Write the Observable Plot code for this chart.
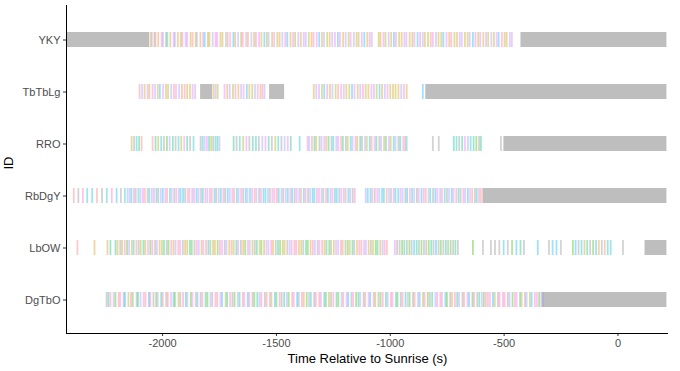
<!DOCTYPE html>
<html>
<head>
<meta charset="utf-8">
<script src="https://cdn.jsdelivr.net/npm/d3@7"></script>
<script src="https://cdn.jsdelivr.net/npm/@observablehq/plot@0.6"></script>
<style>
  html, body { margin: 0; padding: 0; background: #fff; }
  #chart { width: 680px; height: 371px; }
</style>
</head>
<body>
<div id="chart"></div>
<script>
// ---------- DATA ----------
const ids = ["YKY", "TbTbLg", "RRO", "RbDgY", "LbOW", "DgTbO"];
const xTicks = [-2000, -1500, -1000, -500, 0];
const typeLevels = ["a","b","c","d","e","f","g","h","i","j","k"];
const typeColors = ["#F8766D","#D89000","#A3A500","#39B600","#00BF7D","#00BFC4","#00B0F6","#9590FF","#E76BF3","#FF62BC","#8C8C8C"];

// gray intervals (start, end) in seconds relative to sunrise
const grayYKY = [[-2420, -2057], [-426, 215]];
const grayTbTbLg = [[-1833, -1780], [-1530, -1464], [-844, 215]];
const grayRRO = [[-501, 215]];
const grayRbDgY = [[-593, 215]];
const grayLbOW = [[119, 215]];
const grayDgTbO = [[-330, 215]];

// event times (s) and their type codes
const timesYKY = [-2053,-2047,-2036,-2031,-2019,-2004,-1998,-1985,-1979,-1966,
 -1951,-1946,-1933,-1920,-1913,-1899,-1892,-1877,-1868,-1855,
 -1849,-1834,-1822,-1815,-1801,-1794,-1780,-1767,-1760,-1746,
 -1737,-1722,-1714,-1703,-1689,-1681,-1668,-1655,-1648,-1633,
 -1625,-1610,-1598,-1590,-1576,-1566,-1553,-1542,-1534,-1519,
 -1510,-1496,-1486,-1474,-1461,-1452,-1438,-1427,-1418,-1404,
 -1393,-1380,-1371,-1358,-1346,-1337,-1323,-1312,-1300,-1291,
 -1277,-1266,-1255,-1243,-1230,-1221,-1207,-1196,-1183,-1174,
 -1160,-1148,-1139,-1125,-1114,-1101,-1090,-1081,
 -1051,-1043,-1030,-1021,-1007,-996,-984,-975,-961,-950,
 -938,-929,-915,-903,-894,-880,-869,-857,-848,-834,
 -822,-813,-799,-788,-776,-767,-753,-741,-732,-718,
 -707,-695,-686,-672,-660,-651,-637,-626,-614,-605,
 -591,-579,-570,-556,-545,-533,-524,-510,-498,-489,
 -475,-466];
const typesYKY = "bhcibjhcgbihbcjhibachbigcbhjibchbigbhcjibhcjibgchbicbhjgbichbihcbjigbhcbhigjbhcihbcigbjhcb" +
 "ichbgjcbihbcigjhbcaihbcgibjcbhicbhgjcibhbhcigjbchigb";

const timesTbTbLg = [-2101,-2090,-2079,-2066,-2058,-2044,-2033,-2021,-2012,-1998,
 -1985,-1976,-1962,-1950,-1941,-1927,-1915,-1903,-1892,-1880,-1868,-1857,
 -1776,-1767,-1758,
 -1728,-1716,-1705,-1691,-1680,-1667,-1655,-1644,-1630,-1619,-1606,-1594,-1582,-1570,-1561,-1552,
 -1336,-1325,-1313,-1300,-1290,-1277,-1265,-1254,-1240,-1229,-1216,-1204,-1193,-1180,-1168,-1157,
 -1143,-1132,-1120,-1108,-1096,-1083,-1072,-1060,-1047,-1036,-1024,-1012,-1000,-988,-977,-964,-952,-940,-928,
 -857];
const typesTbTbLg = "ahbicjhbgibchaihbjcbih" + "bhc" + "ibhcjbhigbchibjh" + "bhicgjbhcaihbcgibhjcbihcgbhicbcbhib" + "g";

const timesRRO = [-2136,-2125,-2114,-2103,-2092,
 -2044,-2031,-2019,-2006,-1994,-1981,-1969,-1955,-1943,-1930,-1918,-1905,-1892,-1879,-1864,
 -1833,-1824,-1815,-1805,-1796,-1787,-1778,-1768,-1759,-1750,
 -1688,-1675,-1661,-1646,-1632,-1619,-1604,-1590,-1577,-1562,-1548,-1534,-1520,-1505,-1492,-1478,-1464,-1450,-1437,
 -1398,
 -1363,-1356,-1344,-1333,-1325,-1311,-1302,-1290,-1281,-1271,-1258,-1250,-1237,-1229,-1216,-1208,-1195,-1187,
 -1174,-1166,-1153,-1145,-1132,-1124,-1111,-1103,-1090,-1082,-1069,-1061,-1048,-1040,-1027,-1019,-1006,-998,
 -985,-977,-964,-956,-943,-935,-928,
 -813,-787,
 -721,-709,-697,-684,-672,-659,-647,-634,-622,-610,-602,
 -514];
const typesRRO = "ckfea" + "aecfkdhekfciekf" + "kfhieckfeh" + "ekfcikefkhiekcfkhie" + "f" +
 "ihaeckhibekfhiaekcfhibekhcfaiekhbeicfhkeiaf" + "kk" + "efkeihfedke" + "k";

const timesRbDgY = [-2390,-2370,-2350,-2331,-2309,-2288,-2266,-2245,-2223,-2202,-2183,-2166,-2154,
 -2145,-2137,-2126,-2118,-2106,-2097,-2086,-2078,-2066,-2058,
 -2047,-2038,-2027,-2019,-2008,-1999,-1988,-1980,-1968,-1960,
 -1949,-1940,-1929,-1921,-1910,-1901,-1890,-1882,-1870,-1862,
 -1851,-1842,-1831,-1823,-1812,-1803,-1792,-1784,-1772,-1764,
 -1753,-1744,-1733,-1725,-1714,-1705,-1694,-1686,-1674,-1666,
 -1655,-1646,-1635,-1627,-1616,-1607,-1596,-1588,-1576,-1568,
 -1557,-1548,-1537,-1529,-1518,-1509,-1498,-1490,-1478,-1470,
 -1459,-1450,-1439,-1431,-1420,-1411,-1400,-1392,-1380,-1372,
 -1361,-1352,-1341,-1333,-1322,-1313,-1302,-1294,-1282,-1274,
 -1263,-1254,-1243,-1235,-1224,-1215,-1204,-1196,-1184,-1176,
 -1165,-1156,
 -1108,-1099,-1087,-1079,-1068,-1057,-1048,-1036,-1028,-1016,
 -1006,-997,-985,-977,-965,-955,-946,-934,-926,-914,
 -904,-895,-883,-875,-863,-853,-844,-832,-824,-812,
 -802,-793,-781,-773,-761,-751,-742,-730,-722,-710,
 -700,-691,-679,-671,-659,-649,-640,-628,-620,-610,-602];
const typesRbDgY = "akjfgakfjgkfh" +
 "hgjkfhiakghjfkhgiafhkjhgfkiahjghkfjhiagkhfjkghiafhjkghfiahkjgfhkijaghkhfjgkihafjkhgfjihkaghjfgkihafhkj" +
 "hgfjkihgfahkjgfihkgjfhkigjahfkgihjfkhgiafkjhgiakfja";

const timesLbOW = [-2374,-2299,-2242,-2229,
 -2207,-2198,-2186,-2178,-2166,-2156,-2147,-2135,-2127,-2115,-2105,-2096,-2084,-2076,-2064,-2054,
 -2045,-2033,-2025,-2013,-2003,-1994,-1982,-1974,-1962,-1952,-1943,-1931,-1923,-1911,-1901,-1892,
 -1880,-1872,-1860,-1850,-1841,-1829,-1821,-1809,-1799,-1790,-1778,-1770,-1758,-1748,-1739,-1727,
 -1719,-1707,-1697,-1688,-1676,-1668,-1656,-1646,-1637,-1625,-1617,-1605,-1595,-1586,-1574,-1566,
 -1554,-1544,-1535,-1523,-1515,-1503,-1493,-1484,-1472,-1464,-1452,-1442,-1433,-1421,-1413,-1401,
 -1391,-1382,-1370,-1362,-1350,-1340,-1331,-1319,-1311,-1299,-1289,-1280,-1268,-1260,-1248,-1238,
 -1229,-1217,-1209,-1197,-1187,-1178,-1166,-1158,-1146,-1136,-1127,-1115,-1107,-1095,-1085,-1076,
 -1064,-1056,-1044,-1034,-1025,-1015,
 -980,-970,-959,-948,-938,-927,-916,-906,-895,-884,-874,-863,-852,-842,-831,-820,-810,-799,-788,
 -778,-767,-756,-746,-735,-724,-714,-703,
 -637,-593,
 -558,-540,-521,-502,-484,-465,-446,-428,-413,
 -352,
 -303,-287,-270,-251,
 -198,-186,-173,-160,-147,-135,-122,-109,-96,-84,-71,-58,-45,-32,22];
const typesLbOW = "abbe" +
 "ebkcjdhbfakcebidjkhbcekdjbhaikbcedkjhbiaekcbdjikhbaceikbdjhckebdcihjbkedcbkhiajbckedbjhkiabedkcihjbkdcekbjaihbkcdebhjaik" +
 "kdekdkgekdkkdekgkdkekdkekdk" + "kk" + "kgkdgekgk" + "g" + "gkdg" + "kgcekdgbkaegkdk";

const timesDgTbO = [-2246,-2238,-2229,-2215,-2207,-2193,-2186,-2171,-2165,-2150,-2139,-2131,-2114,-2108,-2097,
 -2083,-2075,-2060,-2054,-2040,-2028,-2021,-2006,-1999,-1984,-1977,-1963,-1952,-1946,-1930,-1922,-1910,
 -1898,-1891,-1876,-1869,-1854,-1847,-1833,-1825,-1811,-1803,-1790,-1782,-1768,-1760,-1746,-1739,-1723,
 -1716,-1703,-1693,-1684,-1670,-1662,-1648,-1641,-1626,-1619,-1605,-1597,-1584,-1574,-1566,-1551,-1543,
 -1529,-1522,-1507,-1500,-1486,-1477,-1466,-1454,-1446,-1431,-1424,-1409,-1402,-1388,-1380,-1367,-1357,
 -1349,-1334,-1327,-1312,-1305,-1290,-1283,-1269,-1260,-1250,-1236,-1228,-1214,-1207,-1192,-1185,-1171,
 -1163,-1150,-1140,-1132,-1117,-1110,-1095,-1088,-1073,-1066,-1052,-1043,-1033,-1019,-1011,-997,-990,
 -975,-968,-954,-946,-933,-923,-915,-900,-893,-878,-871,-856,-849,-835,-826,-816,-802,-794,-780,-773,
 -758,-751,-737,-729,-716,-706,-698,-683,-676,-661,-654,-639,-632,-618,-609,-598,-589,-580,
 -571,-562,-549,-541,-527,-520,-505,-498,-484,-476,-463,-453,-445,-430,-423,-408,-401,-387,-379,-365,
 -356,-346,-336,-330];
const typesDgTbO = "kejhdaikgcjdkehiagjkdhejkaigdckjehdiagkjedhkjaigcejkdheaigjkdehjkaicgdjkehdaigkjbdhekjaigdckjedhaigkjdehkaigjckdjehaigdkjehdkaigcjdkehjaigdkbjehkaigdjkehdjaigck" +
 "jiakhdjiebkhcgjidkhacbfg";

// ---------- BUILD TABLES ----------
const rows = [
  ["YKY", timesYKY, typesYKY, grayYKY],
  ["TbTbLg", timesTbTbLg, typesTbTbLg, grayTbTbLg],
  ["RRO", timesRRO, typesRRO, grayRRO],
  ["RbDgY", timesRbDgY, typesRbDgY, grayRbDgY],
  ["LbOW", timesLbOW, typesLbOW, grayLbOW],
  ["DgTbO", timesDgTbO, typesDgTbO, grayDgTbO]
];
const events = rows.flatMap(([id, ts, tp]) => ts.map((t, i) => ({id, t, type: tp[i % tp.length]})));
const bars = rows.flatMap(([id, , , g]) => g.map(([s, e]) => ({id, s, e})));

const W = 680, H = 371, mL = 66, mR = 12, mT = 5, mB = 38;
const font = "'Liberation Sans', Arial, sans-serif";

const plot = Plot.plot({
  width: W, height: H,
  marginLeft: mL, marginRight: mR, marginTop: mT, marginBottom: mB,
  style: {fontFamily: font, fontSize: "11px", color: "#4d4d4d", background: "#fff", overflow: "visible"},
  x: {domain: [-2422, 222]},
  y: {type: "band", domain: ids, paddingInner: 0.717, paddingOuter: 0.4585},
  color: {domain: typeLevels, range: typeColors},
  marks: [
    Plot.barX(bars, {x1: "s", x2: "e", y: "id", fill: "#bebebe"}),
    Plot.tickX(events, {x: "t", y: "id", stroke: "type", strokeWidth: 1.8, strokeOpacity: 0.38}),
    Plot.axisX({ticks: xTicks, tickFormat: d => String(d), tickSize: 3, tickPadding: 3, label: null, stroke: "#333", fill: "#4d4d4d", fontSize: 11}),
    Plot.axisY({tickSize: 3, tickPadding: 3, label: null, stroke: "#333", fill: "#4d4d4d", fontSize: 11}),
    Plot.ruleX([-2422], {stroke: "#000", strokeWidth: 1}),
    Plot.text(["Time Relative to Sunrise (s)"], {frameAnchor: "bottom", dy: 29, fill: "#000", fontSize: 13, fontFamily: font}),
    Plot.text(["ID"], {frameAnchor: "left", dx: -58, rotate: -90, fill: "#000", fontSize: 13, fontFamily: font})
  ]
});

// bottom axis line (theme_classic style)
d3.select(plot).append("line")
  .attr("x1", mL).attr("x2", W - mR)
  .attr("y1", H - mB + 0.5).attr("y2", H - mB + 0.5)
  .attr("stroke", "#000").attr("stroke-width", 1);

document.getElementById("chart").appendChild(plot);
</script>
</body>
</html>
